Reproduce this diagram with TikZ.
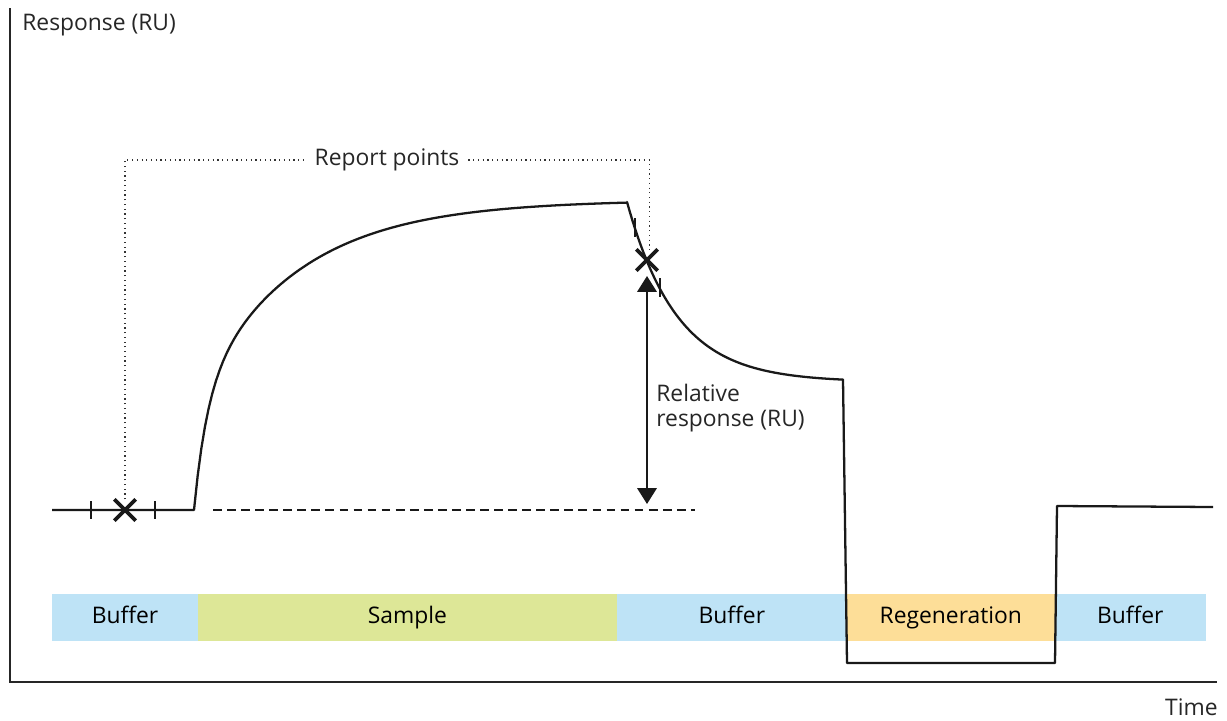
\documentclass[tikz,border=0pt]{standalone}
\usepackage{fontspec}
\setmainfont{Open Sans}
\usepackage{tikz}
\usetikzlibrary{arrows.meta, positioning, shapes.misc}
\usepackage{xcolor}
\definecolor{bufblue}{RGB}{190,227,246}
\definecolor{sampgreen}{RGB}{221,231,151}
\definecolor{regorange}{RGB}{253,222,152}

\begin{document}
\begin{tikzpicture}[
  x=0.02cm, y=-0.02cm,
  font=\fontsize{13}{14}\selectfont,
  axis/.style={draw=black!85, line width=1.6pt},
  trace/.style={draw=black!90, line width=1.3pt, line join=round},
  tk/.style={draw=black!90, line width=1pt},
  xmark/.style={cross out, draw=black!90, line width=2.2pt, minimum size=10pt, inner sep=0pt},
  rp/.style={draw=black!80, line width=0.7pt, dotted},
  zero/.style={draw=black!90, line width=1.3pt, dash pattern=on 5pt off 3pt},
  dbl/.style={{Triangle[length=9pt, width=11pt]}-{Triangle[length=9pt, width=11pt]},
              draw=black!90, line width=1.2pt},
  phase/.style={minimum height=0.94cm, inner sep=0pt, outer sep=0pt, anchor=west,
                text height=9.5pt, text depth=2.5pt},
  lbl/.style={text=black!85}
]
\useasboundingbox (0,0) rectangle (1227,720);

% ================================================= axes
\coordinate (top) at (10,8);
\coordinate (orig) at (10,682);
\coordinate (xend) at (1217,682);
\draw[axis] (top) -- (orig) -- (xend);
\node[lbl, anchor=west, inner sep=0pt] (ylab) at (22,25) {Response (RU)};
\node[lbl, anchor=east, inner sep=0pt] (xlab) at (1218,707) {Time};

% ================================================= injection phases
\node[phase, fill=bufblue, minimum width=2.92cm] (bufA) at (52,617) {Buffer};
\node[phase, fill=sampgreen, minimum width=8.38cm, right=0pt of bufA] (samp) {Sample};
\node[phase, fill=bufblue, minimum width=4.6cm, right=0pt of samp] (bufB) {Buffer};
\node[phase, fill=regorange, minimum width=4.16cm, right=0pt of bufB] (regen) {Regeneration};
\node[phase, fill=bufblue, minimum width=3.02cm, right=0pt of regen] (bufC) {Buffer};

% ================================================= sensorgram
\draw[zero] (213,510) -- (695,510);
\draw[trace] (52,510) -- (194,510)
  -- plot[domain=194:627, samples=120]
     (\x, {510-110*(1-exp(-(\x-194)/13))-200*(1-exp(-(\x-194)/100))})
  -- plot[domain=627:843, samples=80] (\x, {382-180*exp(-(\x-627)/50)})
  -- (847,663) -- (1055,663) -- (1057,506) -- (1213,507);

% report point windows
\draw[tk] (91,501) -- (91,519);
\draw[tk] (155,501) -- (155,519);
\draw[tk] (635,218) -- (635,237);
\draw[tk] (660,278) -- (660,297);

\node[xmark] (rp1) at (125,510) {};
\node[xmark] (rp2) at (647,260) {};

% ================================================= report points
\node[lbl, inner sep=5pt] (rptxt) at (387,160) {Report points};
\draw[rp] (rp1.north) |- (rptxt.west);
\draw[rp] (rptxt.east) -| ([xshift=1.5pt]rp2.north);

% ================================================= relative response
\coordinate (rtop) at (647,276);
\coordinate (rbase) at (647,504);
\draw[dbl] (rtop) -- (rbase);
\node[lbl, anchor=north west, align=left, inner sep=0pt] (relr) at (656,384)
  {Relative\\response (RU)};

\end{tikzpicture}
\end{document}
